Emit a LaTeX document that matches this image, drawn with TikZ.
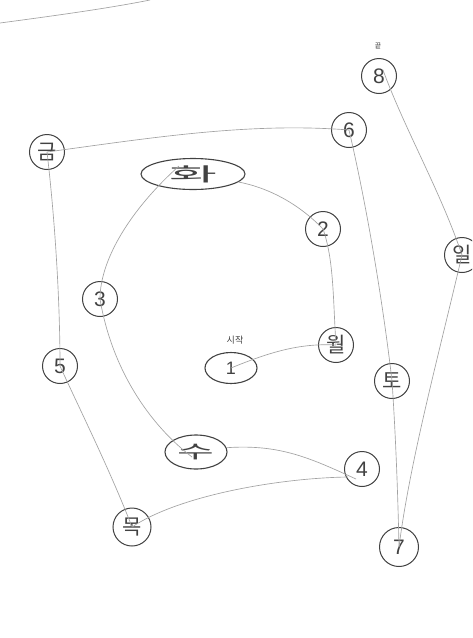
\documentclass[tikz,border=0pt]{standalone}
\usepackage{fontspec}
\setmainfont{Noto Sans CJK KR}
\newfontfamily\digitfont{Liberation Sans}
\usetikzlibrary{shapes.geometric}
\definecolor{ink}{HTML}{424242}
\definecolor{pencil}{HTML}{A2A2A2}
\tikzset{
  circnode/.style={circle, draw=ink, line width=1pt, minimum size=35pt, inner sep=0pt, text=ink, font=\fontsize{21}{21}\selectfont},
  numnode/.style={circnode, font=\digitfont\fontsize{21}{21}\selectfont},
  ovalnode/.style={ellipse, draw=ink, line width=1.1pt, inner sep=0pt, text=ink, font=\fontsize{20}{20}\selectfont},
  small/.style={text=ink, inner sep=0pt},
  link/.style={draw=pencil, line width=0.65pt},
}
\begin{document}
\begin{tikzpicture}[x=1pt,y=-1pt]
\useasboundingbox (0,0) rectangle (472,638);
\clip (0,0) rectangle (472,638);
\fill[white] (0,0) rectangle (472,638);
% nodes
\node[numnode] (n8) at (379,76) {8};
\node[small, font=\fontsize{7}{7}\selectfont] (end) at (378,46) {끝};
\node[numnode] (n6) at (349,130) {6};
\node[circnode] (geum) at (47,152) {금};
\node[ovalnode, minimum width=104pt, minimum height=31pt] (hwa) at (193,174) {\scalebox{2.6}[0.95]{화}};
\node[numnode] (n2) at (323,229) {2};
\node[circnode] (il) at (462,255) {일};
\node[numnode] (n3) at (100,299) {3};
\node[circnode] (wol) at (336,345) {월};
\node[small, font=\fontsize{9}{9}\selectfont] (start) at (235,340) {시작};
\node[ovalnode, minimum width=52pt, minimum height=31pt, font=\digitfont\fontsize{18}{18}\selectfont] (n1) at (231,368) {1};
\node[numnode] (n5) at (60,366) {5};
\node[circnode] (to) at (392,381) {토};
\node[ovalnode, minimum width=62pt, minimum height=34pt] (su) at (196,452) {\scalebox{2.0}[0.9]{수}};
\node[numnode] (n4) at (362,469) {4};
\node[circnode, minimum size=38pt] (mok) at (132,527) {목};
\node[numnode, minimum size=39pt] (n7) at (399,547) {7};
% paper edge
\coordinate (edgeA) at (0,23);
\coordinate (edgeB) at (150,0);
\draw[link] (edgeA) .. controls (60,15) and (110,8) .. (edgeB);
% connectors
\draw[link] (n1.center) .. controls (270,352) and (300,343) .. (wol.center);
\draw[link] (wol.center) .. controls (333,300) and (334,260) .. (n2.center);
\draw[link] (n2.center) .. controls (300,205) and (270,188) .. (hwa.350);
\draw[link] ([xshift=-14pt,yshift=8pt]hwa.center) .. controls (130,210) and (100,260) .. (n3.center);
\draw[link] (n3.center) .. controls (112,370) and (150,425) .. ([xshift=-4pt,yshift=-5pt]su.center);
\draw[link] (su.8) .. controls (280,444) and (310,458) .. ([xshift=-6pt,yshift=-10pt]n4.center);
\draw[link] ([xshift=-14pt,yshift=-8pt]n4.center) .. controls (280,478) and (180,495) .. (mok.center);
\draw[link] (mok.center) .. controls (110,470) and (80,410) .. (n5.center);
\draw[link] (n5.center) .. controls (60,300) and (55,220) .. (geum.center);
\draw[link] (geum.center) .. controls (150,138) and (250,122) .. (n6.center);
\draw[link] (n6.center) .. controls (370,220) and (385,320) .. (to.center);
\draw[link] (to.center) .. controls (396,440) and (398,500) .. (n7.center);
\draw[link] ([xshift=4pt,yshift=6pt]n8.center) .. controls (405,130) and (440,190) .. (il.center);
\draw[link] (il.center) .. controls (440,350) and (410,460) .. (n7.center);
\end{tikzpicture}
\end{document}
